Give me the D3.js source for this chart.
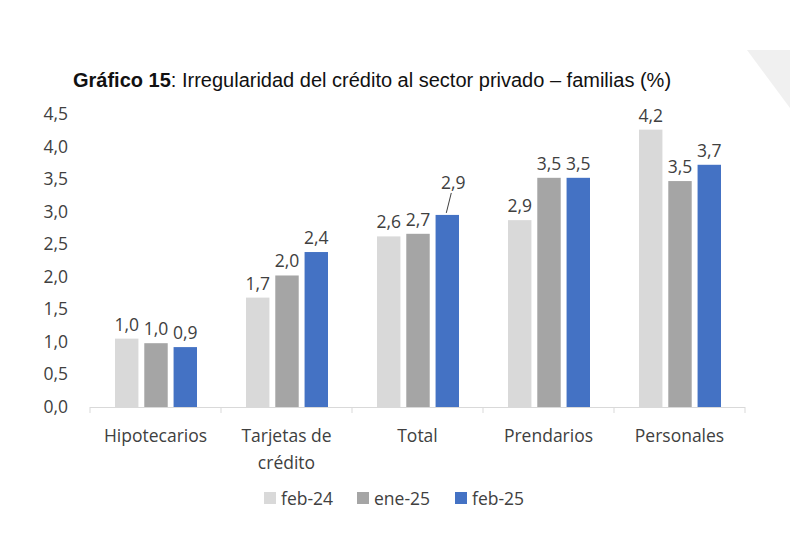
<!DOCTYPE html>
<html><head><meta charset="utf-8">
<script src="https://cdn.jsdelivr.net/npm/d3@7"></script>
<style>body{margin:0;background:#fff}svg{display:block}</style>
</head><body>
<svg id="chart" width="790" height="541"></svg>
<script>
const categories = [['Hipotecarios'], ['Tarjetas de', 'crédito'], ['Total'], ['Prendarios'], ['Personales']];
const seriesNames = ['feb-24', 'ene-25', 'feb-25'];
const feb24 = [1.05, 1.68, 2.62, 2.87, 4.26];
const ene25 = [0.98, 2.02, 2.66, 3.52, 3.47];
const feb25 = [0.92, 2.38, 2.95, 3.52, 3.72];
const labels24 = ['1,0', '1,7', '2,6', '2,9', '4,2'];
const labels25e = ['1,0', '2,0', '2,7', '3,5', '3,5'];
const labels25f = ['0,9', '2,4', '2,9', '3,5', '3,7'];
const yTicks = [0, 0.5, 1, 1.5, 2, 2.5, 3, 3.5, 4, 4.5];
const colors = ['#d9d9d9', '#a5a5a5', '#4472c4'];

const svg = d3.select('#chart');
const font = 'Open Sans, Calibri, sans-serif';
const fs = 17.5;

// gray corner triangle
svg.append('path').attr('d', 'M747,50 L790,50 L790,108 Z').attr('fill', '#f0f0f0');

svg.append('text').attr('x', 73).attr('y', 87).attr('font-family', 'Liberation Sans, Arial, sans-serif')
  .attr('font-size', 20).attr('fill', '#111')
  .html('<tspan font-weight="bold">Gráfico 15</tspan>: Irregularidad del crédito al sector privado – familias (%)');

const x0 = d3.scaleBand().domain(d3.range(categories.length)).range([90, 745]);
const x1 = d3.scaleBand().domain([0, 1, 2]).range([25, 107]).paddingInner(0.2);
const y = d3.scaleLinear().domain([0, 4.5]).range([407, 114]);

svg.selectAll('.yt').data(yTicks).join('text')
  .attr('x', 68).attr('y', d => y(d) + 6).attr('text-anchor', 'end')
  .attr('font-family', font).attr('font-size', fs).attr('fill', '#404040')
  .text(d => d3.format('.1f')(d).replace('.', ','));

svg.append('line').attr('x1', 90).attr('x2', 745).attr('y1', 407.5).attr('y2', 407.5).attr('stroke', '#d9d9d9');
x0.domain().concat([categories.length]).forEach(i => {
  const xx = i < categories.length ? x0(i) : 745;
  svg.append('line').attr('x1', xx).attr('x2', xx).attr('y1', 407).attr('y2', 413).attr('stroke', '#d9d9d9');
});

const series = [feb24, ene25, feb25];
const slabels = [labels24, labels25e, labels25f];
series.forEach((vals, s) => {
  svg.append('g').selectAll('rect').data(vals).join('rect')
    .attr('x', (d, i) => x0(i) + x1(s)).attr('width', x1.bandwidth())
    .attr('y', d => y(d)).attr('height', d => y(0) - y(d)).attr('fill', colors[s]);
  svg.append('g').selectAll('text').data(vals).join('text')
    .attr('x', (d, i) => x0(i) + x1(s) + x1.bandwidth() / 2 + (i === 2 && s === 2 ? 6 : 0))
    .attr('y', (d, i) => y(d) - 8 - (i === 2 && s === 2 ? 18 : 0))
    .attr('text-anchor', 'middle').attr('font-family', font).attr('font-size', fs).attr('fill', '#404040')
    .text((d, i) => slabels[s][i]);
});
// leader line for Total feb-25
svg.append('line').attr('x1', x0(2) + x1(2) + x1.bandwidth() / 2 + 4).attr('y1', y(feb25[2]) - 22)
  .attr('x2', x0(2) + x1(2) + x1.bandwidth() / 2 - 1).attr('y2', y(feb25[2]) - 2).attr('stroke', '#404040');

categories.forEach((lines, i) => {
  lines.forEach((t, k) => {
    svg.append('text').attr('x', x0(i) + x0.bandwidth() / 2).attr('y', 442 + k * 27)
      .attr('text-anchor', 'middle').attr('font-family', font).attr('font-size', fs).attr('fill', '#404040').text(t);
  });
});

const lx = [264, 357, 455];
seriesNames.forEach((n, s) => {
  svg.append('rect').attr('x', lx[s]).attr('y', 492).attr('width', 12).attr('height', 12).attr('fill', colors[s]);
  svg.append('text').attr('x', lx[s] + 17).attr('y', 505).attr('font-family', font).attr('font-size', fs)
    .attr('fill', '#404040').text(n);
});
</script>
</body></html>
